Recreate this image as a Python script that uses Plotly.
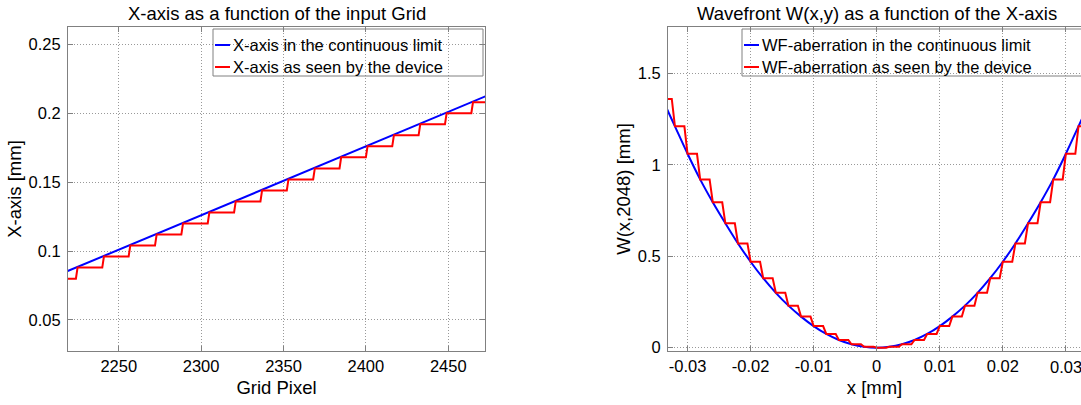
import plotly.graph_objects as go

# ---------------------------------------------------------------- data
# Left panel: X-axis position versus grid pixel
grid_cont_px = [2209, 2481]
grid_cont_mm = [0.0805, 0.2165]

grid_step_px = [2209, 2225, 2241, 2257, 2273, 2289, 2305, 2321, 2337,
                2353, 2369, 2385, 2401, 2417, 2433, 2449, 2465]
grid_step_mm = [0.080, 0.088, 0.096, 0.104, 0.112, 0.120, 0.128, 0.136, 0.144,
                0.152, 0.160, 0.168, 0.176, 0.184, 0.192, 0.200, 0.208]
grid_step_run = 15          # pixels each level is held before the next sample

# Right panel: wavefront W(x, 2048) versus x
wf_x = [-0.034, -0.032, -0.030, -0.028, -0.026, -0.024, -0.022, -0.020, -0.018,
        -0.016, -0.014, -0.012, -0.010, -0.008, -0.006, -0.004, -0.002, 0.000,
        0.002, 0.004, 0.006, 0.008, 0.010, 0.012, 0.014, 0.016, 0.018,
        0.020, 0.022, 0.024, 0.026, 0.028, 0.030, 0.032, 0.034]
wf_w = [1.36, 1.21, 1.06, 0.92, 0.795, 0.68, 0.57, 0.47, 0.38,
        0.30, 0.23, 0.17, 0.118, 0.075, 0.042, 0.019, 0.005, 0.0,
        0.005, 0.019, 0.042, 0.075, 0.118, 0.17, 0.23, 0.30, 0.38,
        0.47, 0.57, 0.68, 0.795, 0.92, 1.06, 1.21, 1.36]
wf_step_run = 0.0015        # mm each level is held before the next sample

left_xticks = [2250, 2300, 2350, 2400, 2450]
left_yticks = [0.05, 0.1, 0.15, 0.2, 0.25]
left_yticktext = ["0.05", "0.1", "0.15", "0.2", "0.25"]
right_xticks = [-0.03, -0.02, -0.01, 0, 0.01, 0.02, 0.03]
right_xticktext = ["-0.03", "-0.02", "-0.01", "0", "0.01", "0.02", "0.03"]
right_yticks = [0, 0.5, 1, 1.5]
right_yticktext = ["0", "0.5", "1", "1.5"]

# ---------------------------------------------------------------- style
W, H = 1081, 405
FONT = "Liberation Sans, Arial, Helvetica, sans-serif"
BLUE, RED = "#0000ff", "#ff0000"
AXC = "#808080"
GRIDC = "#999999"
TICK_SIZE = 16.5
LABEL_SIZE = 18.5


def fx(p):
    return p / W


def fy(p):
    return 1 - p / H


def staircase(xs, ys, run):
    """Hold each level for `run`, then ramp to the next sample."""
    sx, sy = [], []
    for x, y in zip(xs, ys):
        sx += [x, x + run]
        sy += [y, y]
    return sx, sy


fig = go.Figure()

fig.add_trace(go.Scatter(x=grid_cont_px, y=grid_cont_mm, mode="lines",
                         line=dict(color=BLUE, width=2),
                         name="X-axis in the continuous limit",
                         xaxis="x", yaxis="y", showlegend=False))
sx, sy = staircase(grid_step_px, grid_step_mm, grid_step_run)
fig.add_trace(go.Scatter(x=sx, y=sy, mode="lines",
                         line=dict(color=RED, width=2),
                         name="X-axis as seen by the device",
                         xaxis="x", yaxis="y", showlegend=False))

fig.add_trace(go.Scatter(x=wf_x, y=wf_w, mode="lines",
                         line=dict(color=BLUE, width=2, shape="spline"),
                         name="WF-aberration in the continuous limit",
                         xaxis="x2", yaxis="y2", showlegend=False))
sx, sy = staircase(wf_x, wf_w, wf_step_run)
fig.add_trace(go.Scatter(x=sx, y=sy, mode="lines",
                         line=dict(color=RED, width=2),
                         name="WF-aberration as seen by the device",
                         xaxis="x2", yaxis="y2", showlegend=False))

axis_common = dict(
    showline=True, linecolor=AXC, linewidth=1,
    ticks="inside", ticklen=5, tickcolor=AXC, tickwidth=1,
    showgrid=True, gridcolor=GRIDC, gridwidth=1, griddash="1px,2px",
    zeroline=False, automargin=False,
    tickfont=dict(family=FONT, size=TICK_SIZE, color="black"),
    title_font=dict(family=FONT, size=LABEL_SIZE, color="black"),
)

fig.update_layout(
    width=W, height=H,
    margin=dict(l=0, r=0, t=0, b=0),
    paper_bgcolor="white", plot_bgcolor="white",
    font=dict(family=FONT, color="black"),
    xaxis=dict(axis_common, domain=[fx(68), fx(485)], anchor="y",
               range=[2219.2, 2472.3], tickvals=left_xticks, mirror="ticks",
               title=dict(text="Grid Pixel", standoff=7), ticklabelstandoff=0),
    yaxis=dict(axis_common, domain=[fy(351), fy(27)], anchor="x",
               range=[0.0275, 0.2626], tickvals=left_yticks,
               ticktext=left_yticktext, mirror="ticks",
               title=dict(text="X-axis [mm]", standoff=2), ticklabelstandoff=3),
    xaxis2=dict(axis_common, domain=[fx(668), 1.0], anchor="y2",
                range=[-0.0331, 0.0324], tickvals=right_xticks,
                ticktext=right_xticktext, mirror="ticks",
                title=dict(text="x [mm]", standoff=7), ticklabelstandoff=0),
    yaxis2=dict(axis_common, domain=[fy(351), fy(27)], anchor="x2",
                range=[-0.018, 1.753], tickvals=right_yticks,
                ticktext=right_yticktext, mirror=False,
                title=dict(text="W(x,2048) [mm]", standoff=2), ticklabelstandoff=3),
)

# Edge tick label that runs off the page on the right
fig.add_annotation(x=right_xticks[-1], y=fy(367), xref="x2", yref="paper",
                   text=right_xticktext[-1], showarrow=False,
                   xanchor="center", yanchor="middle",
                   font=dict(family=FONT, size=TICK_SIZE, color="black"))

# Panel titles
for cx, text in [((68 + 485) / 2, "X-axis as a function of the input Grid"),
                 ((668 + 1085) / 2, "Wavefront W(x,y) as a function of the X-axis")]:
    fig.add_annotation(x=fx(cx), y=fy(13), xref="paper", yref="paper",
                       text=text, showarrow=False, xanchor="center", yanchor="middle",
                       font=dict(family=FONT, size=LABEL_SIZE, color="black"))

# Legend boxes (transparent, grid visible through them)
legends = [
    (213, 483, ["X-axis in the continuous limit", "X-axis as seen by the device"]),
    (742, 1085, ["WF-aberration in the continuous limit", "WF-aberration as seen by the device"]),
]
for left, right, labels in legends:
    fig.add_shape(type="rect", xref="paper", yref="paper",
                  x0=fx(left), x1=fx(right), y0=fy(76), y1=fy(29),
                  line=dict(color=AXC, width=1), fillcolor="rgba(0,0,0,0)")
    for row_y, color, label in zip([45, 67], [BLUE, RED], labels):
        fig.add_shape(type="line", xref="paper", yref="paper",
                      x0=fx(left + 2), x1=fx(left + 17), y0=fy(row_y), y1=fy(row_y),
                      line=dict(color=color, width=2))
        fig.add_annotation(x=fx(left + 18), y=fy(row_y), xref="paper", yref="paper",
                           text=label, showarrow=False, xanchor="left", yanchor="middle",
                           font=dict(family=FONT, size=16.5, color="black"))

fig.write_html("out.html")
